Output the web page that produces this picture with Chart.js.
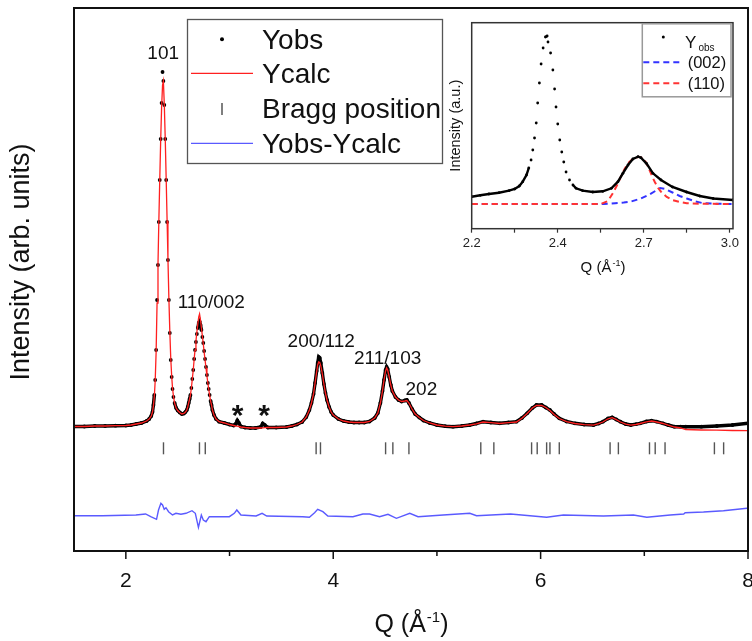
<!DOCTYPE html>
<html>
<head>
<meta charset="utf-8">
<script src="https://cdn.jsdelivr.net/npm/chart.js@4"></script>
<style>
  body { margin: 0; background: #fff; }
  #wrap { position: relative; width: 752px; height: 641px; }
  #main { position: absolute; left: 0; top: 0; }
  #inset { position: absolute; left: 440px; top: 0; }
</style>
</head>
<body>
<div id="wrap">
  <canvas id="main" width="752" height="641"></canvas>
  <canvas id="inset" width="312" height="300"></canvas>
</div>
<script>
// ---- main pattern: Q, observed and calculated intensity (arb. units)
const qMain = [1.50,1.60,1.70,1.80,1.90,2.00,2.05,2.10,2.15,2.20,2.225,2.245,2.257,2.266,2.275,
  2.283,2.292,2.301,2.310,2.318,2.327,2.336,2.345,2.354,2.362,2.371,2.380,2.389,2.398,2.406,2.415,2.424,2.433,2.442,2.450,2.459,
  2.470,2.485,2.500,2.520,2.540,2.560,2.575,
  2.588,2.597,2.606,2.615,2.623,2.632,2.641,2.650,2.659,2.667,2.676,2.685,2.694,2.703,2.711,2.720,2.729,2.738,2.747,2.755,
  2.764,2.773,2.782,2.791,2.799,2.808,2.817,2.826,2.835,
  2.850,2.870,2.900,2.950,3.000,3.040,3.060,3.075,3.090,3.110,3.150,3.200,3.250,3.300,3.320,3.340,3.370,3.450,3.550,
  3.600,3.650,3.700,3.740,3.770,3.790,3.810,3.825,3.840,3.850,3.860,3.870,3.880,3.895,3.910,3.925,3.940,3.960,3.980,4.000,
  4.050,4.100,4.150,4.200,4.250,
  4.300,4.350,4.400,4.430,4.455,4.475,4.490,4.505,4.515,4.525,4.540,4.555,4.570,4.600,4.630,4.660,4.690,4.710,4.730,4.760,
  4.790,4.830,4.870,4.930,
  5.000,5.080,5.155,5.240,5.317,5.380,5.445,5.520,5.606,5.690,5.767,5.820,5.870,5.920,5.960,6.010,6.050,6.090,6.130,6.180,
  6.250,6.330,6.420,6.510,6.560,6.600,6.650,6.690,6.730,6.770,6.820,6.870,6.920,6.960,7.020,7.070,7.120,7.180,7.230,7.290,
  7.350,7.400,7.550,7.700,7.850,8.000];
const yObs = [0.5,0.5,1,1,1.3,1.5,2,3,4,6,8,11,15,22,32,
  47,77,127,162,205,247,288,324,355,346,322,288,247,205,167,127,94,67,50,38,30,
  24,19,16.5,14.5,13,13.5,15,
  17,20,24,28,32,39,48,57,68,77,85,93,99,104,105.5,102,97,90,84,76,
  68,60,52,44,38,32,26,22,17,
  12,8,5.3,4,2.5,1.5,3,6.5,4,0.5,-0.5,-1,-1,0,3.5,2,-0.5,-0.5,0,
  1,2.5,5,10,17,24,33,44,56,64,70,69,64,54,43,34,27,20,15,12,
  8,6,5,4.5,4.5,
  4.5,5.5,9,14,24,36,47,57,60,58,50,42,36,30,27,25.5,26.5,27,24,18,
  13,9.5,6.5,4,
  2,0.8,0.3,1,2,3.5,5.3,4.5,3.7,4.5,5.3,9,13.7,19,22,22,19.5,17,13,8.7,
  5.5,3.7,2.5,2,3.5,5.3,8.5,9.7,7.5,5.3,3,2,2.8,3.7,5.5,6.3,5.3,3.7,2,0.3,
  0.3,0.3,0.3,1,2,3.7];
const yCalc = [0.5,0.5,1,1,1.3,1.5,2,3,4,6,8,11,15,21,31,
  46,75,124,163,205,247,287,320,342,346,322,288,248,206,168,129,96,69,51,39,31,
  24,19,16.5,14.5,13,13.5,15,
  17,20,24,28,32,39,48,57,68,77,86,95,103,110,113,107,99,91,83,75,
  67,59,51,44,38,32,26,22,17,
  12,8,5.3,4,2.5,1.5,1,0.8,0.5,0,-0.5,-1,-1,-1,-0.8,-0.6,-0.5,-0.5,0,
  1,2.5,5,10,17,24,33,44,55,62,65,64.5,61,53,43,34,27,20,15,12,
  8,6,5,4.5,4.5,
  4.5,5.5,9,14,24,36,47,56,59,57,50,42,36,30,27,25.5,26,26.5,24,18,
  13,9.5,6.5,4,
  2,0.8,0.3,1,2,3.2,5,4.3,3.5,4.3,5,8.7,13.5,19,21.5,21.5,19.5,16.5,12.5,8.5,
  5.3,3.5,2.3,1.8,3.3,5,8.2,9.3,7.3,5,2.8,1.8,2.5,3.5,5.2,6,5,3.5,1.8,0,
  -1,-2.5,-3,-3.2,-3.5,-3.7];

// difference curve (already offset below the pattern)
const qDiff = [1.50,1.774,2.097,2.19,2.24,2.296,2.315,2.338,2.354,2.37,2.387,2.412,2.45,2.483,2.531,2.58,2.638,2.67,2.70,
  2.728,2.747,2.773,2.805,2.87,2.998,3.046,3.07,3.11,3.256,3.314,3.359,3.706,3.77,3.82,3.85,3.90,3.948,4.19,4.286,4.35,
  4.447,4.528,4.609,4.738,4.818,5.06,5.317,5.382,5.71,6.058,6.22,6.605,6.895,7.024,7.25,7.38,7.394,7.571,7.764,7.99];
const yDiff = [-88.7,-88.7,-88,-87,-89.7,-92.3,-83,-76.3,-78,-82.3,-80.7,-84.7,-88,-86.3,-87.3,-86.3,-83.7,-86.3,-100.3,
  -88,-93,-94.7,-89.7,-89.7,-89.7,-86.3,-83,-88,-89,-86.3,-89,-89.7,-90.3,-85.7,-82.3,-84.7,-89,-89.7,-87,-87,
  -89.7,-87.3,-91.3,-86.3,-89.7,-88,-86.3,-88.7,-87,-90.3,-88,-89,-88,-90.3,-88,-87,-85.7,-85,-83.7,-81.3];

// Bragg reflections
const braggQ = [2.363,2.71,2.766,3.835,3.877,4.505,4.575,4.73,5.423,5.549,5.913,5.967,6.058,6.09,6.18,
  6.67,6.75,7.05,7.105,7.2,7.676,7.765];
const braggLevel = -21.3;

const xTicks = [2,3,4,5,6,7,8];
const xMajor = [2,4,6,8];
const peakLabels = ['101','110/002','200/112','211/103','202'];
const impurityMark = '*';

// ---- inset: zoom on 101 and 110/002
const qIns = [2.100,2.130,2.160,2.195,2.230,2.250,2.266,2.278,2.291,2.299,2.307,2.313,2.319,2.325,2.330,2.336,2.342,2.349,
  2.357,2.363,2.366,2.375,2.383,2.389,2.394,2.400,2.407,2.414,2.421,2.429,2.441,2.453,2.464,2.487,2.522,2.557,2.587,2.610,
  2.627,2.645,2.662,2.680,2.690,2.709,2.732,2.760,2.800,2.849,2.895,2.942,3.011];
const yInsObs = [7.3,8.7,10,11.3,13.3,15,18,22.3,29,36,44,54,66,81,101,121,140,156,
  167,168,162,151,134,115,97,80,64,52,42,32,24,19,15.7,13.3,12,12.7,15.7,22.3,
  30.7,39,45,47.3,46.3,40.7,30.7,24,17,12,8,5.5,4];
const q002 = [2.100,2.560,2.600,2.630,2.656,2.690,2.720,2.740,2.757,2.775,2.800,2.825,2.850,2.880,2.907,2.950,3.011];
const y002 = [0,0,0.8,1.5,2.5,5.5,9.5,13,16,15,11.5,8,5.5,2.5,0.8,0.2,0];
const q110 = [2.100,2.550,2.575,2.592,2.607,2.620,2.633,2.645,2.657,2.668,2.683,2.695,2.703,2.712,2.720,2.730,2.738,
  2.750,2.760,2.780,2.800,2.825,2.850,2.900,3.011];
const y110 = [0,0,3,10.7,19,27.3,35,40.7,44,45.7,47.3,46,44,39,34,27,22.3,16,12.3,7,4,2,0.7,0.2,0];

const insetTicks = [2.1,2.25,2.4,2.55,2.7,2.85,3.0];
const insetMajor = [2.1,2.4,2.7,3.0];
const insetTickLabels = ['2.2','2.4','2.7','3.0'];

const FONT = "'Liberation Sans', Arial, sans-serif";
const RED = '#ff2020';
const BLUE = '#5a5aff';
Chart.defaults.font.family = FONT;

function pts(xs, ys) { return xs.map((q, i) => ({ x: q, y: ys[i] })); }

// observed points are drawn as a thick line where dense, as bare dots on steep peak flanks
function dotsOnly(qs, lo, hi, px) {
  return ctx => {
    const a = qs[ctx.p0DataIndex], b = qs[ctx.p1DataIndex];
    const steep = Math.abs(ctx.p1.y - ctx.p0.y) > px;
    return (a >= lo && b <= hi && steep) ? 'rgba(0,0,0,0)' : '#000';
  };
}

function drawQTitle(ctx, cx, base, size) {
  const a = 'Q (\u00C5', s = '-1', b = ')';
  ctx.font = size + 'px ' + FONT;
  const wa = ctx.measureText(a).width, wb = ctx.measureText(b).width;
  ctx.font = (size * 0.6) + 'px ' + FONT;
  const ws = ctx.measureText(s).width;
  let x = cx - (wa + ws + wb) / 2;
  ctx.textAlign = 'left';
  ctx.textBaseline = 'alphabetic';
  ctx.font = size + 'px ' + FONT;
  ctx.fillText(a, x, base); x += wa;
  ctx.font = (size * 0.6) + 'px ' + FONT;
  ctx.fillText(s, x + 1, base - size * 0.42); x += ws + 1;
  ctx.font = size + 'px ' + FONT;
  ctx.fillText(b, x, base);
}

function line(ctx, x1, y1, x2, y2) {
  ctx.beginPath(); ctx.moveTo(x1, y1); ctx.lineTo(x2, y2); ctx.stroke();
}

const mainDecor = {
  id: 'mainDecor',
  afterDatasetsDraw(chart) {
    const { ctx, chartArea: a, scales: { x, y } } = chart;
    ctx.save();
    ctx.strokeStyle = '#111';
    ctx.lineWidth = 2;
    ctx.strokeRect(a.left, a.top, a.right - a.left, a.bottom - a.top);

    // minor ticks are shorter than the major ones
    ctx.lineWidth = 1.5;
    xTicks.forEach(v => {
      const px = x.getPixelForValue(v);
      line(ctx, px, a.bottom, px, a.bottom + (xMajor.includes(v) ? 8 : 5));
    });

    // peak indices
    const labelQ = [2.36, 2.824, 3.884, 4.525, 4.85];
    const labelY = [373, 124, 85, 68, 37];
    ctx.fillStyle = '#111';
    ctx.textAlign = 'center';
    ctx.textBaseline = 'middle';
    ctx.font = '19px ' + FONT;
    peakLabels.forEach((t, i) => ctx.fillText(t, x.getPixelForValue(labelQ[i]), y.getPixelForValue(labelY[i])));
    ctx.font = 'bold 30px ' + FONT;
    ctx.textBaseline = 'alphabetic';
    [3.078, 3.334].forEach(q => ctx.fillText(impurityMark, x.getPixelForValue(q), y.getPixelForValue(15.3) + 13));

    // legend
    ctx.strokeStyle = '#555';
    ctx.lineWidth = 1.3;
    ctx.strokeRect(187.5, 19.5, 255, 144);
    ctx.font = '28px ' + FONT;
    ctx.textAlign = 'left';
    const rows = [48.5, 83, 118.3, 152.7];
    chart.data.datasets.forEach((d, i) => ctx.fillText(d.label, 262, rows[i]));
    ctx.fillStyle = '#000';
    ctx.beginPath(); ctx.arc(222, 39.3, 2, 0, Math.PI * 2); ctx.fill();
    ctx.strokeStyle = RED; ctx.lineWidth = 1.3; line(ctx, 191, 73.3, 253, 73.3);
    ctx.strokeStyle = '#555'; ctx.lineWidth = 1.5; line(ctx, 222, 103, 222, 115);
    ctx.strokeStyle = BLUE; ctx.lineWidth = 1.3; line(ctx, 191, 143.3, 253, 143.3);

    // axis titles
    ctx.fillStyle = '#111';
    ctx.save();
    ctx.translate(29, 262);
    ctx.rotate(-Math.PI / 2);
    ctx.font = '27px ' + FONT;
    ctx.textAlign = 'center';
    ctx.fillText('Intensity (arb. units)', 0, 0);
    ctx.restore();
    drawQTitle(ctx, (a.left + a.right) / 2, 632, 25);
    ctx.restore();
  }
};

new Chart(document.getElementById('main'), {
  type: 'scatter',
  data: {
    datasets: [
      { label: 'Yobs', data: pts(qMain, yObs), showLine: true, borderColor: '#000', borderWidth: 3.4,
        pointRadius: 1.9, pointBackgroundColor: '#000', pointBorderWidth: 0, order: 2,
        segment: { borderColor: dotsOnly(qMain, 2.27, 2.86, 5) } },
      { label: 'Ycalc', data: pts(qMain, yCalc), showLine: true, borderColor: RED, borderWidth: 1.3,
        pointRadius: 0, order: 1 },
      { label: 'Bragg position', data: braggQ.map(q => ({ x: q, y: braggLevel })), showLine: false,
        pointStyle: 'line', rotation: 90, pointRadius: 6, borderColor: '#555', borderWidth: 1.4, order: 3 },
      { label: 'Yobs-Ycalc', data: pts(qDiff, yDiff), showLine: true, borderColor: BLUE, borderWidth: 1.4,
        pointRadius: 0, order: 4 }
    ]
  },
  options: {
    responsive: false,
    animation: false,
    devicePixelRatio: 1,
    layout: { autoPadding: false, padding: { left: 0, right: 4, top: 8, bottom: 0 } },
    plugins: { legend: { display: false }, tooltip: { enabled: false } },
    scales: {
      x: {
        type: 'linear', min: 1.5, max: 8,
        afterBuildTicks: s => { s.ticks = xTicks.map(v => ({ value: v })); },
        afterFit: s => { s.height = 90; s.paddingLeft = 0; s.paddingRight = 0; },
        border: { display: false },
        grid: { drawOnChartArea: false, drawTicks: false, tickLength: 8 },
        ticks: { autoSkip: false, maxRotation: 0, padding: 18, color: '#111', font: { size: 21 },
          callback: v => xMajor.includes(v) ? String(v) : '' }
      },
      y: {
        min: -124, max: 419,
        afterFit: s => { s.width = 74; },
        border: { display: false },
        grid: { display: false },
        ticks: { display: false }
      }
    }
  },
  plugins: [mainDecor]
});

const insetDecor = {
  id: 'insetDecor',
  afterDatasetsDraw(chart) {
    const { ctx, chartArea: a } = chart;
    ctx.save();
    ctx.strokeStyle = '#333';
    ctx.lineWidth = 1.5;
    ctx.strokeRect(a.left, a.top, a.right - a.left, a.bottom - a.top);

    // legend box
    ctx.strokeStyle = '#999';
    ctx.strokeRect(202.3, 23.8, 88.7, 73);
    ctx.fillStyle = '#000';
    ctx.beginPath(); ctx.arc(223.3, 37, 1.5, 0, Math.PI * 2); ctx.fill();
    ctx.fillStyle = '#111';
    ctx.textAlign = 'left';
    ctx.textBaseline = 'alphabetic';
    ctx.font = '17px ' + FONT;
    ctx.fillText('Y', 245, 48);
    ctx.font = '10px ' + FONT;
    ctx.fillText('obs', 258.5, 51);
    ctx.font = '16.5px ' + FONT;
    ctx.fillText(chart.data.datasets[1].label, 247.7, 67.5);
    ctx.fillText(chart.data.datasets[2].label, 247.7, 88.5);
    ctx.lineWidth = 2;
    ctx.setLineDash([6, 4]);
    ctx.strokeStyle = chart.data.datasets[1].borderColor; line(ctx, 203.3, 62.3, 241, 62.3);
    ctx.strokeStyle = chart.data.datasets[2].borderColor; line(ctx, 203.3, 83.3, 241, 83.3);
    ctx.setLineDash([]);

    // titles
    ctx.fillStyle = '#111';
    ctx.save();
    ctx.translate(20.3, (a.top + a.bottom) / 2);
    ctx.rotate(-Math.PI / 2);
    ctx.font = '14.5px ' + FONT;
    ctx.textAlign = 'center';
    ctx.fillText('Intensity (a.u.)', 0, 0);
    ctx.restore();
    drawQTitle(ctx, 162.5, 272, 15);
    ctx.restore();
  }
};

new Chart(document.getElementById('inset'), {
  type: 'scatter',
  data: {
    datasets: [
      { label: 'Yobs', data: pts(qIns, yInsObs), showLine: true, borderColor: '#000', borderWidth: 2.4,
        pointRadius: 1.4, pointBackgroundColor: '#000', pointBorderWidth: 0, order: 0,
        segment: { borderColor: dotsOnly(qIns, 2.295, 2.46, 4) } },
      { label: '(002)', data: pts(q002, y002), showLine: true, borderColor: '#3333ff', borderWidth: 2,
        borderDash: [6, 4], pointRadius: 0, order: 2 },
      { label: '(110)', data: pts(q110, y110), showLine: true, borderColor: '#ff3333', borderWidth: 2,
        borderDash: [6, 4], pointRadius: 0, order: 1 }
    ]
  },
  options: {
    responsive: false,
    animation: false,
    devicePixelRatio: 1,
    layout: { autoPadding: false, padding: { left: 31.7, right: 19, top: 22.7, bottom: 0 } },
    plugins: { legend: { display: false }, tooltip: { enabled: false } },
    scales: {
      x: {
        type: 'linear', min: 2.1, max: 3.011,
        afterBuildTicks: s => { s.ticks = insetTicks.map(v => ({ value: v })); },
        afterFit: s => { s.height = 71.3; s.paddingLeft = 0; s.paddingRight = 0; },
        border: { display: false },
        grid: { drawOnChartArea: false, tickLength: 4, tickWidth: 1.2, tickColor: '#333' },
        ticks: { autoSkip: false, maxRotation: 0, padding: 3, color: '#222', font: { size: 13 },
          callback: v => { const i = insetMajor.indexOf(v); return i >= 0 ? insetTickLabels[i] : ''; } }
      },
      y: { display: false, min: -24.7, max: 181.3 }
    }
  },
  plugins: [insetDecor]
});
</script>
</body>
</html>
